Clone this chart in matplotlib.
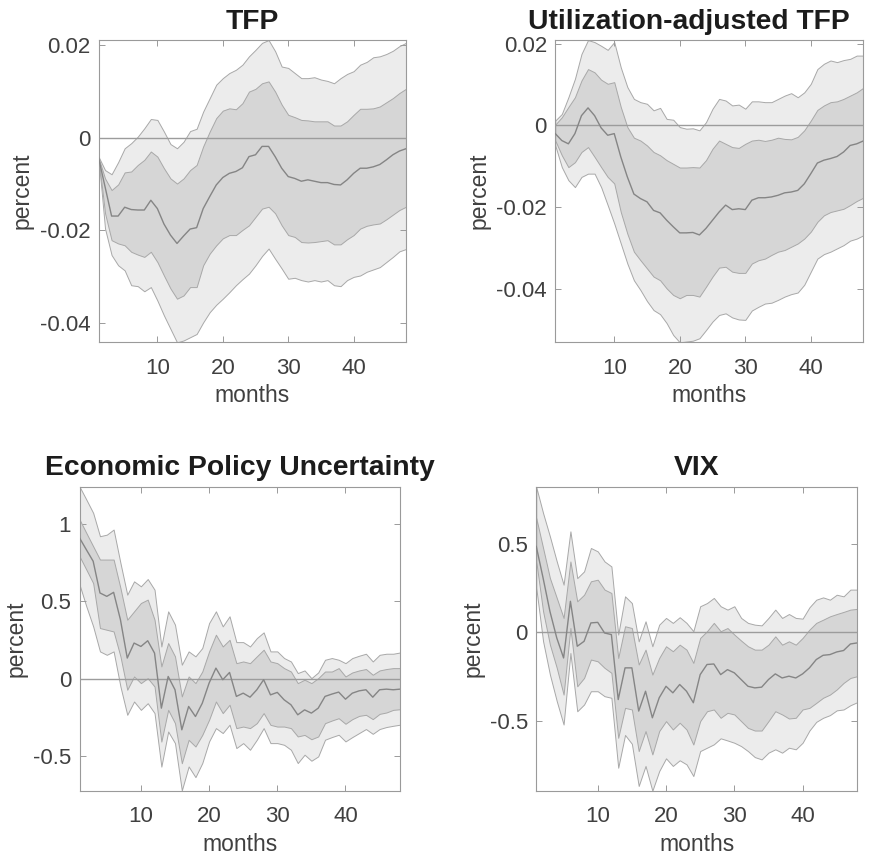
import numpy as np
import matplotlib
matplotlib.use("Agg")
import matplotlib.pyplot as plt

plt.rcParams['font.family'] = ['Liberation Sans', 'DejaVu Sans']

months = np.arange(1, 49)

# ---- TFP ----
tfp_med = [-0.0043, -0.0106, -0.0169, -0.0169, -0.0150, -0.0155, -0.0156, -0.0156, -0.0135, -0.0153,
           -0.0186, -0.0210, -0.0228, -0.0212, -0.0197, -0.0194, -0.0153, -0.0127, -0.0102, -0.0086,
           -0.0077, -0.0073, -0.0065, -0.0041, -0.0037, -0.0019, -0.0019, -0.0041, -0.0066, -0.0084,
           -0.0088, -0.0094, -0.0091, -0.0094, -0.0097, -0.0097, -0.0101, -0.0102, -0.0091, -0.0077,
           -0.0066, -0.0066, -0.0063, -0.0058, -0.0048, -0.0037, -0.0029, -0.0024]
tfp_hi68 = [-0.0043, -0.0088, -0.0113, -0.0101, -0.0075, -0.0073, -0.0059, -0.0048, -0.0030, -0.0041,
            -0.0066, -0.0088, -0.0099, -0.0088, -0.0070, -0.0059, -0.0019, 0.0013, 0.0042, 0.0058,
            0.0063, 0.0061, 0.0074, 0.0099, 0.0105, 0.0117, 0.0121, 0.0099, 0.0071, 0.0049,
            0.0044, 0.0038, 0.0037, 0.0035, 0.0035, 0.0035, 0.0026, 0.0026, 0.0035, 0.0049,
            0.0062, 0.0062, 0.0063, 0.0067, 0.0076, 0.0085, 0.0096, 0.0105]
tfp_lo68 = [-0.0043, -0.0163, -0.0221, -0.0228, -0.0232, -0.0246, -0.0252, -0.0257, -0.0246, -0.0268,
            -0.0297, -0.0325, -0.0347, -0.0340, -0.0322, -0.0322, -0.0275, -0.0250, -0.0232, -0.0217,
            -0.0210, -0.0210, -0.0199, -0.0189, -0.0171, -0.0153, -0.0149, -0.0163, -0.0189, -0.0210,
            -0.0214, -0.0225, -0.0226, -0.0225, -0.0223, -0.0221, -0.0230, -0.0230, -0.0219, -0.0210,
            -0.0196, -0.0190, -0.0187, -0.0185, -0.0176, -0.0166, -0.0156, -0.0149]
tfp_hi90 = [-0.0041, -0.0070, -0.0079, -0.0053, -0.0023, -0.0012, 0.0002, 0.0020, 0.0040, 0.0038,
            0.0013, -0.0014, -0.0023, -0.0009, 0.0014, 0.0019, 0.0056, 0.0085, 0.0114, 0.0128,
            0.0139, 0.0146, 0.0157, 0.0175, 0.0189, 0.0204, 0.0210, 0.0186, 0.0153, 0.0150,
            0.0139, 0.0128, 0.0128, 0.0130, 0.0125, 0.0122, 0.0117, 0.0128, 0.0137, 0.0143,
            0.0157, 0.0163, 0.0173, 0.0175, 0.0180, 0.0187, 0.0197, 0.0204]
tfp_lo90 = [-0.0043, -0.0196, -0.0253, -0.0275, -0.0286, -0.0318, -0.0320, -0.0331, -0.0322, -0.0351,
            -0.0383, -0.0412, -0.0441, -0.0437, -0.0430, -0.0423, -0.0398, -0.0376, -0.0360, -0.0347,
            -0.0333, -0.0318, -0.0305, -0.0293, -0.0275, -0.0255, -0.0239, -0.0261, -0.0282, -0.0304,
            -0.0302, -0.0307, -0.0310, -0.0307, -0.0310, -0.0307, -0.0318, -0.0320, -0.0307, -0.0300,
            -0.0297, -0.0289, -0.0284, -0.0279, -0.0268, -0.0257, -0.0245, -0.0240]

# ---- Utilization-adjusted TFP ----
util_med = [-0.0020, -0.0037, -0.0045, -0.0020, 0.0024, 0.0043, 0.0024, -0.0006, -0.0024, -0.0020,
            -0.0077, -0.0126, -0.0168, -0.0179, -0.0187, -0.0208, -0.0214, -0.0232, -0.0248, -0.0263,
            -0.0263, -0.0262, -0.0268, -0.0252, -0.0232, -0.0212, -0.0195, -0.0206, -0.0204, -0.0206,
            -0.0183, -0.0177, -0.0177, -0.0175, -0.0171, -0.0165, -0.0163, -0.0159, -0.0143, -0.0118,
            -0.0092, -0.0085, -0.0081, -0.0076, -0.0065, -0.0049, -0.0045, -0.0038]
util_hi68 = [0.0002, 0.0020, 0.0045, 0.0069, 0.0110, 0.0138, 0.0130, 0.0112, 0.0102, 0.0106,
             0.0045, -0.0004, -0.0030, -0.0037, -0.0049, -0.0065, -0.0073, -0.0085, -0.0094, -0.0103,
             -0.0103, -0.0102, -0.0103, -0.0085, -0.0057, -0.0037, -0.0045, -0.0053, -0.0055, -0.0045,
             -0.0037, -0.0035, -0.0038, -0.0035, -0.0030, -0.0033, -0.0034, -0.0028, -0.0012, 0.0012,
             0.0038, 0.0049, 0.0057, 0.0059, 0.0065, 0.0073, 0.0081, 0.0092]
util_lo68 = [-0.0037, -0.0073, -0.0102, -0.0090, -0.0065, -0.0053, -0.0077, -0.0102, -0.0126, -0.0142,
             -0.0212, -0.0265, -0.0309, -0.0330, -0.0350, -0.0370, -0.0379, -0.0399, -0.0415, -0.0423,
             -0.0415, -0.0415, -0.0419, -0.0395, -0.0370, -0.0348, -0.0346, -0.0358, -0.0361, -0.0361,
             -0.0338, -0.0330, -0.0326, -0.0317, -0.0309, -0.0305, -0.0297, -0.0289, -0.0277, -0.0260,
             -0.0236, -0.0220, -0.0212, -0.0208, -0.0204, -0.0195, -0.0185, -0.0177]
util_hi90 = [0.0012, 0.0028, 0.0069, 0.0114, 0.0175, 0.0209, 0.0204, 0.0195, 0.0185, 0.0204,
             0.0142, 0.0094, 0.0065, 0.0057, 0.0053, 0.0037, 0.0043, 0.0016, 0.0014, -0.0004,
             -0.0008, -0.0007, -0.0012, 0.0008, 0.0041, 0.0065, 0.0061, 0.0049, 0.0051, 0.0041,
             0.0059, 0.0059, 0.0057, 0.0057, 0.0065, 0.0073, 0.0079, 0.0069, 0.0081, 0.0102,
             0.0138, 0.0151, 0.0159, 0.0155, 0.0160, 0.0163, 0.0171, 0.0171]
util_lo90 = [-0.0049, -0.0102, -0.0134, -0.0151, -0.0126, -0.0118, -0.0118, -0.0151, -0.0195, -0.0240,
             -0.0289, -0.0338, -0.0379, -0.0403, -0.0430, -0.0452, -0.0462, -0.0484, -0.0513, -0.0531,
             -0.0529, -0.0527, -0.0521, -0.0501, -0.0480, -0.0464, -0.0460, -0.0470, -0.0475, -0.0476,
             -0.0453, -0.0444, -0.0436, -0.0434, -0.0427, -0.0419, -0.0413, -0.0409, -0.0390, -0.0358,
             -0.0326, -0.0315, -0.0309, -0.0301, -0.0293, -0.0282, -0.0277, -0.0269]

# ---- Economic Policy Uncertainty ----
epu_med = [0.911, 0.835, 0.760, 0.555, 0.533, 0.559, 0.382, 0.134, 0.231, 0.209,
           0.246, 0.166, -0.190, 0.015, -0.071, -0.330, -0.179, -0.244, -0.158, -0.028,
           0.069, -0.006, 0.041, -0.114, -0.093, -0.119, -0.071, -0.006, -0.104, -0.088,
           -0.136, -0.168, -0.233, -0.201, -0.222, -0.190, -0.114, -0.099, -0.086, -0.132,
           -0.093, -0.078, -0.071, -0.119, -0.071, -0.067, -0.071, -0.067]
epu_hi68 = [1.030, 0.943, 0.857, 0.771, 0.771, 0.771, 0.587, 0.382, 0.436, 0.490,
            0.512, 0.382, 0.080, 0.231, 0.145, -0.114, 0.015, -0.028, 0.047, 0.177,
            0.285, 0.209, 0.252, 0.101, 0.112, 0.101, 0.145, 0.188, 0.112, 0.101,
            0.069, 0.047, -0.028, -0.006, -0.028, 0.004, 0.047, 0.047, 0.069, 0.015,
            0.041, 0.054, 0.063, 0.026, 0.054, 0.063, 0.069, 0.069]
epu_lo68 = [0.792, 0.706, 0.619, 0.328, 0.317, 0.306, 0.145, -0.071, 0.015, -0.028,
            0.004, -0.050, -0.406, -0.201, -0.287, -0.546, -0.395, -0.438, -0.363, -0.265,
            -0.147, -0.222, -0.168, -0.319, -0.309, -0.319, -0.287, -0.222, -0.298, -0.309,
            -0.309, -0.319, -0.373, -0.363, -0.391, -0.373, -0.287, -0.270, -0.255, -0.291,
            -0.261, -0.240, -0.233, -0.261, -0.227, -0.218, -0.201, -0.197]
epu_hi90 = [1.243, 1.159, 1.073, 0.922, 0.932, 0.965, 0.749, 0.544, 0.630, 0.598,
            0.645, 0.576, 0.209, 0.436, 0.350, 0.091, 0.177, 0.145, 0.199, 0.360,
            0.436, 0.339, 0.404, 0.237, 0.237, 0.209, 0.263, 0.300, 0.177, 0.177,
            0.134, 0.112, 0.037, 0.054, 0.004, 0.041, 0.123, 0.134, 0.123, 0.101,
            0.134, 0.149, 0.162, 0.112, 0.155, 0.162, 0.162, 0.170]
epu_lo90 = [0.609, 0.468, 0.339, 0.177, 0.155, 0.177, -0.050, -0.233, -0.147, -0.201,
            -0.158, -0.222, -0.568, -0.341, -0.416, -0.722, -0.567, -0.636, -0.545, -0.405,
            -0.319, -0.351, -0.297, -0.448, -0.416, -0.459, -0.394, -0.319, -0.416, -0.416,
            -0.427, -0.459, -0.545, -0.491, -0.530, -0.502, -0.394, -0.377, -0.362, -0.405,
            -0.377, -0.351, -0.325, -0.356, -0.325, -0.312, -0.304, -0.297]

# ---- VIX ----
vix_med = [0.485, 0.306, 0.118, -0.032, -0.145, 0.175, -0.079, -0.051, 0.053, 0.056,
           -0.004, -0.013, -0.380, -0.201, -0.201, -0.445, -0.333, -0.483, -0.370, -0.305,
           -0.342, -0.295, -0.333, -0.398, -0.239, -0.182, -0.179, -0.239, -0.211, -0.229,
           -0.267, -0.305, -0.314, -0.310, -0.267, -0.235, -0.258, -0.248, -0.258, -0.235,
           -0.201, -0.154, -0.130, -0.126, -0.111, -0.103, -0.066, -0.060]
vix_hi68 = [0.645, 0.476, 0.306, 0.194, 0.081, 0.400, 0.175, 0.212, 0.288, 0.297,
            0.241, 0.222, -0.145, 0.034, 0.024, -0.182, -0.098, -0.239, -0.145, -0.079,
            -0.107, -0.070, -0.098, -0.173, -0.032, 0.006, 0.053, 0.006, 0.024, -0.013,
            -0.047, -0.079, -0.098, -0.098, -0.070, -0.023, -0.070, -0.051, -0.070, -0.032,
            0.015, 0.053, 0.071, 0.090, 0.103, 0.115, 0.128, 0.132]
vix_lo68 = [0.400, 0.118, -0.070, -0.201, -0.352, 0.024, -0.305, -0.258, -0.154, -0.164,
            -0.201, -0.229, -0.596, -0.427, -0.436, -0.671, -0.558, -0.690, -0.558, -0.502,
            -0.549, -0.511, -0.549, -0.634, -0.502, -0.446, -0.436, -0.483, -0.455, -0.464,
            -0.502, -0.540, -0.555, -0.555, -0.502, -0.446, -0.464, -0.487, -0.483, -0.436,
            -0.427, -0.399, -0.370, -0.352, -0.323, -0.286, -0.258, -0.248]
vix_hi90 = [0.820, 0.673, 0.541, 0.400, 0.269, 0.570, 0.306, 0.344, 0.476, 0.457,
            0.400, 0.372, -0.013, 0.203, 0.165, -0.051, 0.062, -0.079, 0.043, 0.081,
            0.053, 0.085, 0.053, 0.006, 0.147, 0.165, 0.194, 0.147, 0.128, 0.147,
            0.081, 0.053, 0.043, 0.039, 0.081, 0.128, 0.081, 0.103, 0.081, 0.077,
            0.141, 0.184, 0.197, 0.184, 0.212, 0.203, 0.241, 0.241]
vix_lo90 = [0.250, -0.051, -0.239, -0.389, -0.521, -0.117, -0.446, -0.408, -0.333, -0.333,
            -0.361, -0.370, -0.765, -0.580, -0.630, -0.868, -0.755, -0.895, -0.784, -0.712,
            -0.755, -0.723, -0.746, -0.812, -0.671, -0.652, -0.633, -0.599, -0.611, -0.624,
            -0.643, -0.671, -0.705, -0.718, -0.680, -0.661, -0.680, -0.652, -0.661, -0.624,
            -0.555, -0.506, -0.483, -0.468, -0.441, -0.436, -0.412, -0.395]

titles = ["TFP", "Utilization-adjusted TFP", "Economic Policy Uncertainty", "VIX"]
title_x = [0.5, 0.434, 0.5, 0.5]
x_ticks = [10, 20, 30, 40]
y_ticks = [[-0.04, -0.02, 0, 0.02], [-0.04, -0.02, 0, 0.02], [-0.5, 0, 0.5, 1], [-0.5, 0, 0.5]]
y_ticklabels = [["-0.04", "-0.02", "0", "0.02"], ["-0.04", "-0.02", "0", "0.02"],
                ["-0.5", "0", "0.5", "1"], ["-0.5", "0", "0.5"]]
y_limits = [(-0.0441, 0.0210), (-0.0531, 0.0209), (-0.724, 1.243), (-0.895, 0.823)]

panels = [
    (tfp_lo90, tfp_lo68, tfp_med, tfp_hi68, tfp_hi90),
    (util_lo90, util_lo68, util_med, util_hi68, util_hi90),
    (epu_lo90, epu_lo68, epu_med, epu_hi68, epu_hi90),
    (vix_lo90, vix_lo68, vix_med, vix_hi68, vix_hi90),
]

# axes rectangles [left, bottom, width, height] in figure fractions
rects = [
    [0.1131, 0.6010, 0.3530, 0.3523],
    [0.6375, 0.6010, 0.3536, 0.3523],
    [0.0913, 0.0784, 0.3680, 0.3545],
    [0.6157, 0.0784, 0.3685, 0.3545],
]

OUTER = '#ececec'
INNER = '#d6d6d6'
EDGE = '#a8a8a8'
MEDIAN = '#858585'
ZERO = '#9c9c9c'
FRAME = '#9a9a9a'
TEXT = '#404040'

fig = plt.figure(figsize=(8.71, 8.58), dpi=100)

for i, (lo90, lo68, med, hi68, hi90) in enumerate(panels):
    ax = fig.add_axes(rects[i])
    ax.fill_between(months, lo90, hi90, facecolor=OUTER, edgecolor=EDGE, linewidth=0.7, zorder=1)
    ax.fill_between(months, lo68, hi68, facecolor=INNER, edgecolor=EDGE, linewidth=0.7, zorder=2)
    ax.axhline(0, color=ZERO, linewidth=1.0, zorder=3)
    ax.plot(months, med, color=MEDIAN, linewidth=1.0, zorder=4)

    ax.set_xlim(1, 48)
    ax.set_ylim(*y_limits[i])
    ax.set_xticks(x_ticks)
    ax.set_xticklabels([str(t) for t in x_ticks])
    ax.set_yticks(y_ticks[i])
    ax.set_yticklabels(y_ticklabels[i])

    ax.tick_params(direction='in', length=4, width=0.7, color=FRAME, labelcolor=TEXT,
                   labelsize=16, top=True, right=True)
    ax.tick_params(axis='y', pad=6)
    ax.tick_params(axis='x', pad=11)
    for s in ax.spines.values():
        s.set_color(FRAME)
        s.set_linewidth(0.8)

    ax.set_xlabel("months", fontsize=16.5, color=TEXT, labelpad=4)
    ax.set_ylabel("percent", fontsize=16.5, color=TEXT, labelpad=4)
    ax.set_title(titles[i], fontsize=20.3, fontweight='bold', color='#1c1c1c', pad=8,
                 x=title_x[i])

fig.savefig("out.png", dpi=100)
